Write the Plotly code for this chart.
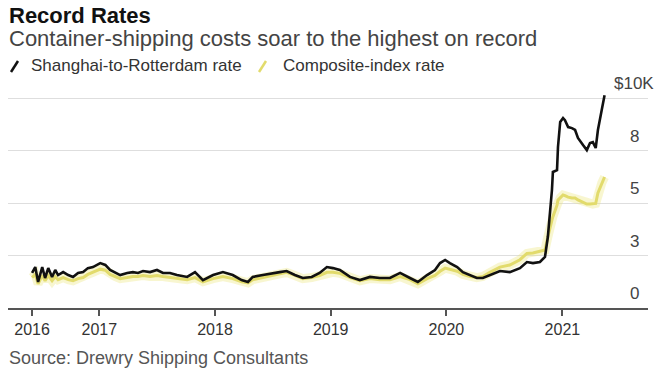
import plotly.graph_objects as go

# ---------------- data ----------------
dates = [
    "2016-06-03", "2016-06-13", "2016-06-22", "2016-07-05", "2016-07-14", "2016-07-24", "2016-08-05", "2016-08-15",
    "2016-08-24", "2016-09-09", "2016-09-25", "2016-10-10", "2016-10-26", "2016-11-11", "2016-11-26", "2016-12-12",
    "2017-01-04", "2017-01-20", "2017-02-04", "2017-02-20", "2017-03-08", "2017-03-30", "2017-04-17", "2017-05-03",
    "2017-05-19", "2017-06-10", "2017-07-02", "2017-07-21", "2017-08-12", "2017-09-03", "2017-09-22", "2017-10-05",
    "2017-10-30", "2017-11-24", "2017-12-26",
    "2018-01-26", "2018-02-26", "2018-03-26", "2018-04-15", "2018-04-30", "2018-06-01", "2018-07-02", "2018-07-24",
    "2018-08-15", "2018-09-10", "2018-10-05", "2018-11-02", "2018-11-27", "2018-12-20",
    "2019-01-08", "2019-01-30", "2019-03-03", "2019-04-03", "2019-05-05", "2019-06-05", "2019-07-07", "2019-08-08",
    "2019-09-08", "2019-10-03", "2019-11-01", "2019-11-26", "2019-12-12", "2019-12-28",
    "2020-01-12", "2020-02-04", "2020-02-22", "2020-03-15", "2020-04-06", "2020-04-25", "2020-05-17", "2020-06-18",
    "2020-07-19", "2020-08-20", "2020-09-11", "2020-09-30", "2020-10-22", "2020-11-07", "2020-11-16", "2020-11-23",
    "2020-11-29", "2020-12-02", "2020-12-15", "2020-12-18", "2020-12-25",
    "2021-01-03", "2021-01-09", "2021-01-19", "2021-01-31", "2021-02-10", "2021-02-19", "2021-03-07", "2021-03-19",
    "2021-03-29", "2021-04-07", "2021-04-16", "2021-04-23", "2021-05-05", "2021-05-14",
]

# Shanghai-to-Rotterdam rate, thousands of USD per 40ft container
shanghai_rotterdam = [
    1.67, 1.95, 1.24, 1.95, 1.43, 1.90, 1.48, 1.81, 1.57, 1.71, 1.57, 1.48, 1.67, 1.71, 1.90, 1.95,
    2.14, 2.05, 1.81, 1.67, 1.57, 1.67, 1.71, 1.67, 1.76, 1.71, 1.81, 1.67, 1.67, 1.57, 1.52, 1.48, 1.71, 1.33, 1.57,
    1.71, 1.57, 1.33, 1.24, 1.48, 1.57, 1.67, 1.71, 1.76, 1.57, 1.43, 1.48, 1.67, 1.95,
    1.90, 1.81, 1.48, 1.33, 1.48, 1.43, 1.43, 1.67, 1.43, 1.24, 1.57, 1.81, 2.14, 2.29,
    2.14, 1.95, 1.71, 1.57, 1.43, 1.43, 1.57, 1.76, 1.71, 1.90, 2.19, 2.14, 2.19, 2.43, 3.38, 4.52, 5.62, 6.48,
    6.57, 7.67, 8.86,
    9.05, 8.95, 8.62, 8.57, 8.48, 8.10, 7.76, 7.52, 7.86, 7.90, 7.62, 8.48, 9.43, 10.14,
]

# Composite-index rate
composite = [
    1.45, 1.60, 1.15, 1.55, 1.30, 1.55, 1.30, 1.50, 1.35, 1.45, 1.35, 1.30, 1.40, 1.45, 1.60, 1.70,
    1.85, 1.80, 1.60, 1.50, 1.40, 1.45, 1.50, 1.50, 1.55, 1.50, 1.55, 1.50, 1.45, 1.40, 1.35, 1.35, 1.45, 1.25, 1.40,
    1.50, 1.40, 1.25, 1.20, 1.35, 1.45, 1.55, 1.60, 1.70, 1.55, 1.40, 1.45, 1.55, 1.70,
    1.70, 1.65, 1.45, 1.30, 1.40, 1.35, 1.35, 1.50, 1.35, 1.15, 1.40, 1.55, 1.75, 1.90,
    1.85, 1.75, 1.60, 1.50, 1.45, 1.50, 1.70, 1.95, 2.05, 2.30, 2.60, 2.62, 2.70, 2.76, 3.38, 3.90, 4.19, 4.35,
    4.90, 5.14, 5.25,
    5.38, 5.35, 5.28, 5.24, 5.24, 5.15, 5.05, 4.95, 4.95, 4.95, 4.98, 5.48, 5.95, 6.24,
]

x_tick_dates = ["2016-06-03", "2017-01-01", "2018-01-01", "2019-01-01", "2020-01-01", "2021-01-01"]
x_tick_labels = ["2016", "2017", "2018", "2019", "2020", "2021"]

y_tick_vals = [0, 2.5, 5, 7.5, 10]
y_tick_labels = ["0", "3", "5", "8", "$10K"]

series_names = ["Shanghai-to-Rotterdam rate", "Composite-index rate"]

title_text = "Record Rates"
subtitle_text = "Container-shipping costs soar to the highest on record"
source_text = "Source: Drewry Shipping Consultants"

# ---------------- figure ----------------
FONT = "Liberation Sans, Arial, sans-serif"
BLACK = "#111111"
YELLOW = "#e2db6c"

fig = go.Figure()
fig.add_trace(go.Scatter(x=dates, y=composite, mode="lines",
                         line=dict(color="rgba(236,228,120,0.35)", width=9),
                         hoverinfo="skip", showlegend=False))
fig.add_trace(go.Scatter(x=dates, y=composite, mode="lines", name=series_names[1],
                         line=dict(color=YELLOW, width=3), showlegend=False))
fig.add_trace(go.Scatter(x=dates, y=shanghai_rotterdam, mode="lines", name=series_names[0],
                         line=dict(color=BLACK, width=2.6), showlegend=False))

L, R, T, B = 8, 22, 88, 72
W, H = 670, 380
PW, PH = W - L - R, H - T - B


def px(x):
    return (x - L) / PW


def py(y):
    return (H - B - y) / PH


fig.update_layout(
    width=W, height=H,
    margin=dict(l=L, r=R, t=T, b=B),
    paper_bgcolor="white", plot_bgcolor="white",
    font=dict(family=FONT, color="#333"),
    showlegend=False,
    xaxis=dict(
        type="date",
        range=["2016-03-19", "2021-09-28"],
        tickvals=x_tick_dates, ticktext=x_tick_labels,
        ticks="outside", ticklen=6, tickwidth=1.5, tickcolor="#555",
        showline=True, linecolor="#555", linewidth=2,
        showgrid=False, zeroline=False,
        tickfont=dict(size=16, color="#333", family=FONT),
    ),
    yaxis=dict(
        range=[0, 10.48],
        tickvals=y_tick_vals,
        showticklabels=False,
        showgrid=True, gridcolor="#dedede", gridwidth=1,
        zeroline=False, showline=False,
    ),
)

annotations = []
for v, t in zip(y_tick_vals, y_tick_labels):
    annotations.append(dict(x=px(634), y=v, xref="paper", yref="y", text=t, showarrow=False,
                            xanchor="center", yanchor="bottom", yshift=3,
                            font=dict(size=17, color="#444", family=FONT)))

annotations += [
    dict(x=px(7), y=py(1), xref="paper", yref="paper",
         text=("<span style='font-size:22px;color:#111'><b>" + title_text + "</b></span><br>"
               "<span style='font-size:22px;color:#444'>" + subtitle_text + "</span>"),
         showarrow=False, align="left",
         xanchor="left", yanchor="top", font=dict(size=18, color="#444", family=FONT)),
    dict(x=px(29), y=py(66), xref="paper", yref="paper", text=series_names[0], showarrow=False,
         xanchor="left", yanchor="middle", font=dict(size=17, color="#333", family=FONT)),
    dict(x=px(281), y=py(66), xref="paper", yref="paper", text=series_names[1], showarrow=False,
         xanchor="left", yanchor="middle", font=dict(size=17, color="#333", family=FONT)),
    dict(x=px(7), y=py(358), xref="paper", yref="paper", text=source_text,
         showarrow=False, xanchor="left", yanchor="middle", font=dict(size=18, color="#555", family=FONT)),
]
fig.update_layout(annotations=annotations)

fig.update_layout(shapes=[
    dict(type="line", xref="paper", yref="paper", x0=px(11), y0=py(72), x1=px(18), y1=py(61),
         line=dict(color=BLACK, width=2.5)),
    dict(type="line", xref="paper", yref="paper", x0=px(259), y0=py(72), x1=px(266), y1=py(61),
         line=dict(color=YELLOW, width=2.5)),
])

fig.write_html("out.html", config={"displayModeBar": False},
               post_script="document.body.style.margin='0';")
